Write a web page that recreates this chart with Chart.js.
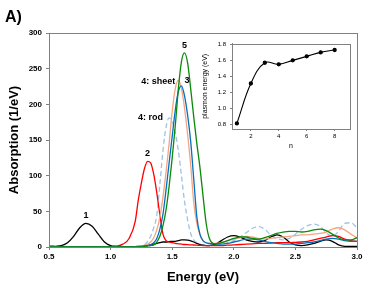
<!DOCTYPE html>
<html>
<head>
<meta charset="utf-8">
<script src="https://cdn.jsdelivr.net/npm/chart.js@4"></script>
<style>
  body { margin: 0; background: #fff; }
  #wrap { position: relative; width: 374px; height: 292px; }
  #mainChart { position: absolute; left: 0; top: 0; }
  #insetChart { position: absolute; left: 198px; top: 36px; }
  #tag { position: absolute; left: 5px; top: 8px; font: bold 16px Arial, "Liberation Sans", sans-serif; color: #000; }
</style>
</head>
<body>
<div id="wrap">
  <canvas id="mainChart" width="374" height="292"></canvas>
  <canvas id="insetChart" width="158" height="118"></canvas>
  <div id="tag">A)</div>
</div>
<script>
// energy grid (eV)
const energy = [0.5,0.55,0.6,0.65,0.7,0.75,0.8,0.85,0.9,0.95,1.0,1.05,1.1,1.15,1.2,
  1.225,1.25,1.275,1.3,1.325,1.35,1.375,1.4,1.425,1.45,1.475,1.5,1.525,1.55,1.575,1.6,1.625,1.65,1.675,1.7,1.725,1.75,1.775,1.8,
  1.85,1.9,1.95,2.0,2.05,2.1,2.15,2.2,2.25,2.3,2.35,2.4,2.45,2.5,2.55,2.6,2.65,2.7,2.75,2.8,2.85,2.9,2.95,3.0];

// absorption (1/eV)
const abs1 = [1,1,2,6,15,27,33,29,18,7,2,1,0.5,0.5,0.5,
  1,1,1.5,2,3,4,5,6,7,7,7.5,8,8,9,10,10,9.5,8.5,7,5,3.5,2.5,2,2,
  4,9,14,16,14,10,8,7,9,14,17,14,7,3,2,3,5,8,10,8,3,1,1,1];
const abs2 = [0,0,0,0,0,0,0,0,0,0,0.3,1,4,12,36,
  66,90,110,120,118,102,76,45,18,9,7,6,5,4.5,4,3.5,3.2,3,2.8,2.5,2.3,2,2,2,
  2,2,2.5,3,3.5,4,4.5,5,5,5.5,6,6,6,6.5,7,8,10,12,14,16,15,11,9,8];
const abs3 = [0,0,0,0,0,0,0,0,0,0,0,0,0,0,0,
  0.5,1,1.5,2,3,6,12,25,46,80,118,155,192,218,226,212,185,148,95,42,18,9,6,5,
  4.5,4,5,7,9,11,11,10,8,6,5,4,4,4,5,6,7,9,11,12,11,9,8,8];
const abs4sheet = [0,0,0,0,0,0,0,0,0,0,0,0,0,0,0,
  1,1.5,2.5,4,7,13,24,42,70,105,145,190,222,234,222,195,158,115,62,33,17,9,6,5,
  5,6,9,11,13,15,14,12,11,12,13,14,15,16,17,17,18,19,21,25,27,24,18,13];
const abs4rod = [2,2,1,0.5,0,0,0,0,0,0,0,0,0,0,0.3,
  0.5,1,3,8,15,27,45,88,135,168,181,176,160,135,100,64,38,19,10,6,4,3,2.5,2.5,
  3,4,6,9,14,20,26,29,25,17,12,10,12,18,25,30,32,29,20,15,22,33,34,27];
const abs5 = [0,0,0,0,0,0,0,0,0,0,0,0,0,0,0,
  0,0.5,1,1.5,2,3,7,15,30,52,85,125,170,222,260,272,258,222,182,145,112,72,34,13,
  4,6,9,12,14,14,12,11,13,16,19,21,22,22,21,22,24,25,23,18,13,10,10,13];

// inset: plasmon energy vs n
const nVals = [1,2,3,4,5,6,7,8];
const plasmon = [0.81,1.31,1.57,1.55,1.60,1.65,1.70,1.73];
const insetXTicks = [2,4,6,8];
const insetYTicks = [0.8,1.0,1.2,1.4,1.6,1.8];

const FONT = 'Arial, "Liberation Sans", sans-serif';

function pts(ys) { return energy.map((e, i) => ({ x: e, y: ys[i] })); }

function series(label, ys, color, dash, peakLabel, align) {
  return {
    label: label,
    data: pts(ys),
    borderColor: color,
    borderWidth: 1.3,
    borderDash: dash || [],
    pointRadius: 0,
    fill: false,
    cubicInterpolationMode: 'monotone',
    peakLabel: peakLabel,
    peakAlign: align
  };
}

const frame = {
  id: 'frame',
  afterDraw(chart) {
    const a = chart.chartArea, ctx = chart.ctx;
    ctx.save();
    ctx.strokeStyle = '#808080';
    ctx.lineWidth = 1;
    ctx.strokeRect(Math.round(a.left) + 0.5, Math.round(a.top) + 0.5,
      Math.round(a.right - a.left), Math.round(a.bottom - a.top));
    ctx.restore();
  }
};

// labels placed at the peak of each curve
const peakLabels = {
  id: 'peakLabels',
  afterDatasetsDraw(chart) {
    const ctx = chart.ctx, xs = chart.scales.x, ys = chart.scales.y;
    ctx.save();
    ctx.fillStyle = '#000';
    ctx.font = 'bold 9px ' + FONT;
    chart.data.datasets.forEach(ds => {
      if (!ds.peakLabel) return;
      let best = ds.data[0];
      ds.data.forEach(p => { if (p.y > best.y) best = p; });
      const px = xs.getPixelForValue(best.x), py = ys.getPixelForValue(best.y);
      if (ds.peakAlign === 'above') {
        ctx.textAlign = 'center'; ctx.textBaseline = 'bottom';
        ctx.fillText(ds.peakLabel, px, py - 3);
      } else if (ds.peakAlign === 'leftSheet') {
        ctx.textAlign = 'right'; ctx.textBaseline = 'middle';
        ctx.fillText(ds.peakLabel, px - 3, py + 1);
      } else if (ds.peakAlign === 'leftRod') {
        ctx.textAlign = 'right'; ctx.textBaseline = 'middle';
        ctx.fillText(ds.peakLabel, px - 6, py);
      } else if (ds.peakAlign === 'right') {
        ctx.textAlign = 'left'; ctx.textBaseline = 'middle';
        ctx.fillText(ds.peakLabel, px + 3, py - 5);
      }
    });
    ctx.restore();
  }
};

new Chart(document.getElementById('mainChart'), {
  type: 'line',
  data: {
    datasets: [
      series('5', abs5, '#0a8a0a', null, '5', 'above'),
      series('3', abs3, '#0070c0', null, '3', 'right'),
      series('4: sheet', abs4sheet, '#f4a582', null, '4: sheet', 'leftSheet'),
      series('2', abs2, '#ff0000', null, '2', 'above'),
      series('1', abs1, '#000000', null, '1', 'above'),
      series('4: rod', abs4rod, '#9dc3e6', [5, 3], '4: rod', 'leftRod')
    ]
  },
  options: {
    responsive: false,
    animation: false,
    devicePixelRatio: 1,
    layout: { padding: { left: 0, right: 17, top: 33, bottom: 0 } },
    plugins: { legend: { display: false }, tooltip: { enabled: false } },
    scales: {
      x: {
        type: 'linear', min: 0.5, max: 3.0,
        afterFit: s => { s.height = 45; },
        grid: { display: true, drawOnChartArea: false, drawTicks: true, tickLength: 3, color: '#808080' },
        border: { color: '#808080' },
        ticks: { stepSize: 0.5, padding: 2, color: '#000', font: { family: FONT, size: 8, weight: 'bold' },
          callback: v => v.toFixed(1) },
        title: { display: true, text: 'Energy (eV)', color: '#000',
          font: { family: FONT, size: 13, weight: 'bold' }, padding: { top: 0, bottom: 7 } }
      },
      y: {
        min: 0, max: 300,
        afterFit: s => { s.width = 49; },
        grid: { display: true, drawOnChartArea: false, drawTicks: true, tickLength: 3, color: '#808080' },
        border: { color: '#808080' },
        ticks: { stepSize: 50, padding: 4, color: '#000', font: { family: FONT, size: 8, weight: 'bold' } },
        title: { display: true, text: 'Absorption (1/eV)', color: '#000',
          font: { family: FONT, size: 13, weight: 'bold' }, padding: { top: 7, bottom: 0 } }
      }
    }
  },
  plugins: [frame, peakLabels]
});

new Chart(document.getElementById('insetChart'), {
  type: 'line',
  data: {
    labels: nVals,
    datasets: [{
      data: nVals.map((n, i) => ({ x: n, y: plasmon[i] })),
      borderColor: '#000', backgroundColor: '#000',
      borderWidth: 1.1, pointRadius: 1.6, tension: 0.4, fill: false
    }]
  },
  options: {
    responsive: false,
    animation: false,
    devicePixelRatio: 1,
    layout: { padding: { left: 0, right: 6, top: 7, bottom: 0 } },
    plugins: { legend: { display: false }, tooltip: { enabled: false } },
    scales: {
      x: {
        type: 'linear', min: 0.65, max: 9.1,
        afterFit: s => { s.height = 25; },
        afterBuildTicks: s => { s.ticks = insetXTicks.map(v => ({ value: v })); },
        grid: { display: true, drawOnChartArea: false, tickLength: 2, color: '#808080' },
        border: { color: '#808080' },
        ticks: { padding: 2, color: '#000', font: { family: FONT, size: 6 } },
        title: { display: true, text: 'n', color: '#000', font: { family: FONT, size: 7 },
          padding: { top: 0, bottom: 4 } }
      },
      y: {
        min: 0.74, max: 1.81,
        afterFit: s => { s.width = 34; },
        afterBuildTicks: s => { s.ticks = insetYTicks.map(v => ({ value: v })); },
        grid: { display: true, drawOnChartArea: false, tickLength: 2, color: '#808080' },
        border: { color: '#808080' },
        ticks: { padding: 4, color: '#000', font: { family: FONT, size: 6 }, callback: v => v.toFixed(1) },
        title: { display: true, text: 'plasmon energy (eV)', color: '#000', font: { family: FONT, size: 7 },
          padding: { top: 3, bottom: 0 } }
      }
    }
  },
  plugins: [frame]
});
</script>
</body>
</html>
